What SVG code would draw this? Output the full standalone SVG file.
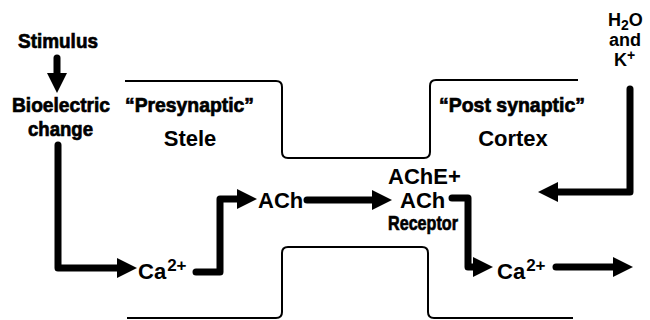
<svg xmlns="http://www.w3.org/2000/svg" width="650" height="320" viewBox="0 0 650 320">
<style>
text{font-family:"Liberation Sans",Arial,sans-serif;font-weight:bold;fill:#000}
.c{font-size:21px;stroke:#000;stroke-width:0.7}
.r{font-size:22px}
.s{font-size:18px}
.sup{font-size:17px}
.sub{font-size:14px}
.wall{fill:none;stroke:#000;stroke-width:2}
.arr{fill:none;stroke:#000;stroke-width:7;stroke-linejoin:round;stroke-linecap:round;marker-end:url(#ah)}
</style>
<defs>
<marker id="ah" markerUnits="userSpaceOnUse" markerWidth="20" markerHeight="20" viewBox="0 0 20 20" refX="10" refY="10" orient="auto">
<path d="M0,0 L20,10 L0,20 z" fill="#000"/>
</marker>
</defs>
<g id="walls">
<path class="wall" d="M125,81 L276,81 Q282,81 282,87 L282,152 Q282,158 288,158 L424,158 Q430,158 430,152 L430,86 Q430,80 436,80 L578,80"/>
<path class="wall" d="M127,318 L276,318 Q282,318 282,312 L282,253 Q282,247 288,247 L422,247 Q428,247 428,253 L428,312 Q428,318 434,318 L573,318"/>
</g>
<g id="connectors">
<path class="arr" d="M57,58 L57,83"/>
<path class="arr" d="M58,145 L58,268 L127,268"/>
<path class="arr" d="M196,272 L220,272 L220,199 L247,199"/>
<path class="arr" d="M307,200 L382,200"/>
<path class="arr" d="M452,198 L468,198 L468,267 L483,267"/>
<path class="arr" d="M556,267 L623,267"/>
<path class="arr" d="M630,89 L630,192 L548,192"/>
</g>
<g id="stimulus"><text class="c" x="18" y="48" textLength="80" lengthAdjust="spacingAndGlyphs">Stimulus</text></g>
<g id="bioelectric">
<text class="c" x="12" y="112" textLength="98" lengthAdjust="spacingAndGlyphs">Bioelectric</text>
<text class="c" x="28" y="136" textLength="65" lengthAdjust="spacingAndGlyphs">change</text>
</g>
<g id="presynaptic">
<text class="c" x="125" y="112" textLength="129" lengthAdjust="spacingAndGlyphs">“Presynaptic”</text>
<text class="r" x="190" y="146" text-anchor="middle">Stele</text>
</g>
<g id="postsynaptic">
<text class="c" x="439" y="112" textLength="146" lengthAdjust="spacingAndGlyphs">“Post synaptic”</text>
<text class="r" x="513" y="146" text-anchor="middle">Cortex</text>
</g>
<g id="h2o">
<text class="s" x="608" y="26">H<tspan class="sub" dy="4">2</tspan><tspan dy="-4">O</tspan></text>
<text class="s" x="609" y="46">and</text>
<text class="s" x="614" y="66">K<tspan class="sub" dy="-6">+</tspan></text>
</g>
<g id="ca-left"><text class="r" x="138" y="279">Ca<tspan class="sup" dx="1" dy="-8">2+</tspan></text></g>
<g id="ach"><text class="r" x="258" y="208">ACh</text></g>
<g id="ache">
<text class="r" x="388" y="184">AChE+</text>
<text class="r" x="400" y="208">ACh</text>
<text class="c" x="388" y="230" textLength="70" lengthAdjust="spacingAndGlyphs">Receptor</text>
</g>
<g id="ca-right"><text class="r" x="497" y="279">Ca<tspan class="sup" dx="1" dy="-8">2+</tspan></text></g>
</svg>
